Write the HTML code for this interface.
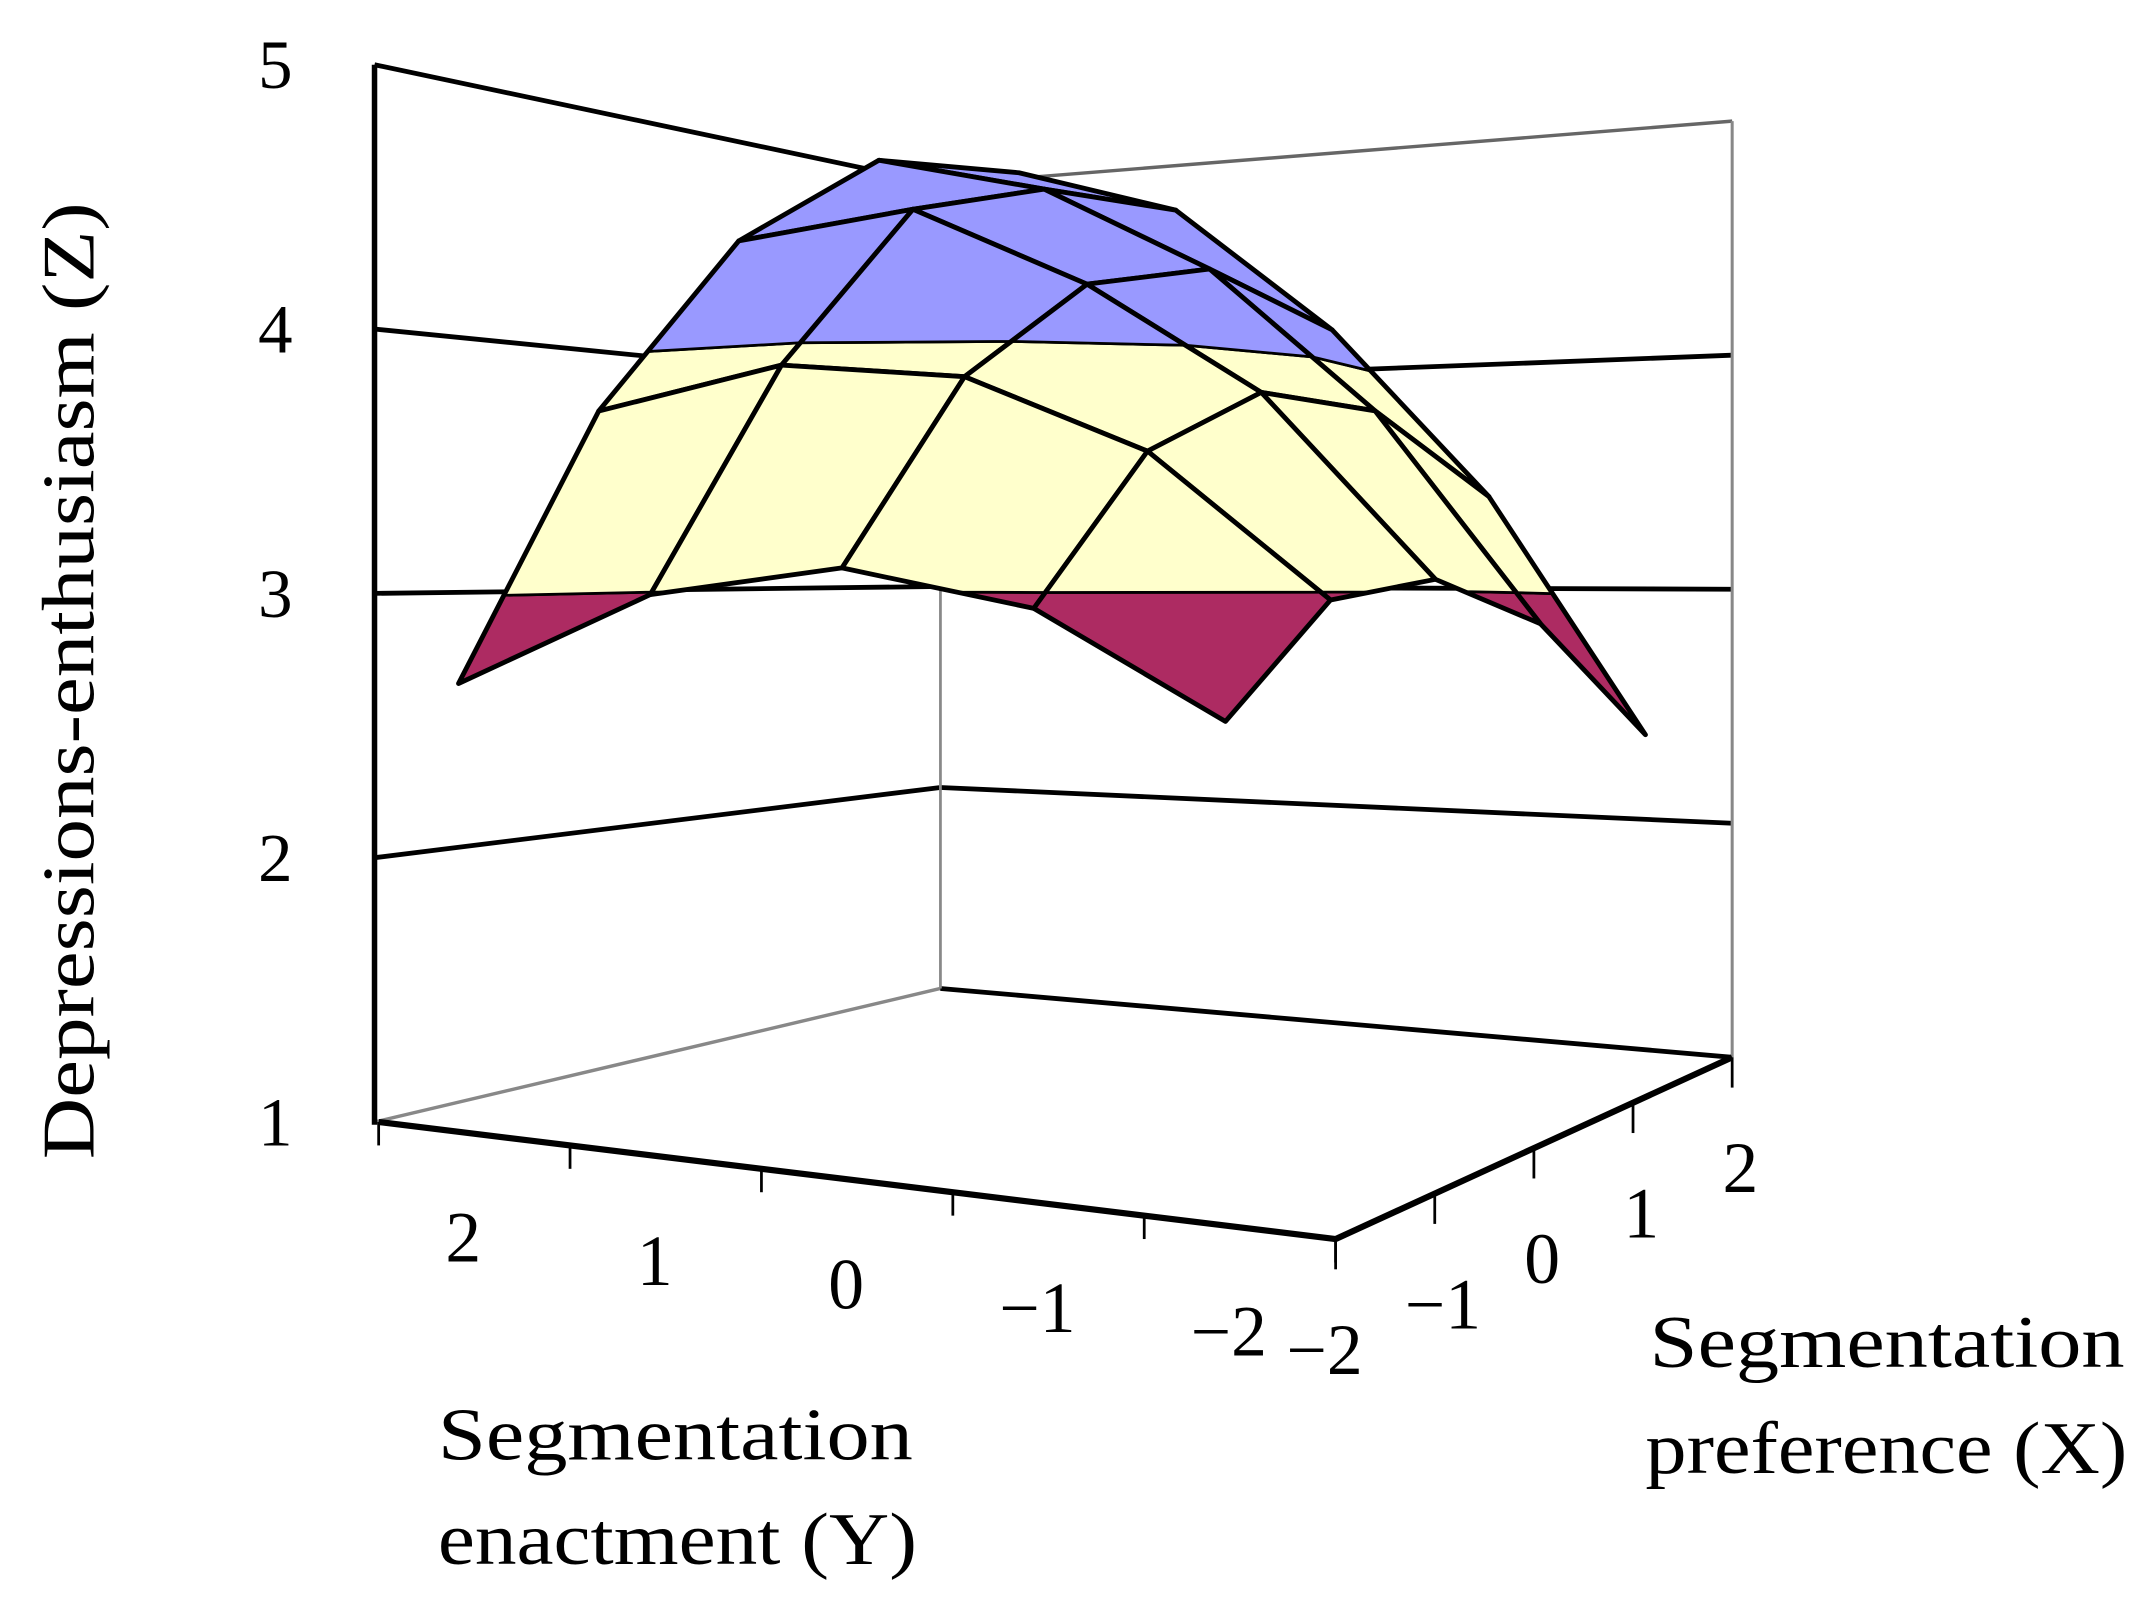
<!DOCTYPE html>
<html><head><meta charset="utf-8"><style>
html,body{margin:0;padding:0;background:#fff;}
svg{display:block;}
text{font-family:"Liberation Serif",serif;fill:#000;}
</style></head><body>
<svg id="chart" width="2148" height="1608" viewBox="0 0 1560 1168" preserveAspectRatio="none" xmlns="http://www.w3.org/2000/svg">
<g id="walls"></g>
<g id="surface"></g>
<g id="axes"></g>
<text transform="translate(68,842) rotate(-90)" font-size="54" textLength="695" lengthAdjust="spacingAndGlyphs">Depressions-enthusiasm (Z)</text>
<text x="318" y="1060" font-size="54" textLength="345" lengthAdjust="spacingAndGlyphs">Segmentation</text>
<text x="318" y="1136" font-size="54" textLength="348" lengthAdjust="spacingAndGlyphs">enactment (Y)</text>
<text x="1198" y="993" font-size="54" textLength="345" lengthAdjust="spacingAndGlyphs">Segmentation</text>
<text x="1195" y="1070" font-size="54" textLength="350" lengthAdjust="spacingAndGlyphs">preference (X)</text>
</svg>
<script>
const X_VALUES = [-2, -1, 0, 1, 2];      // rows, front to back
const Y_VALUES = [2, 1, 0, -1, -2];      // columns, left to right
const Z_ROWS = [
  [2.65, 2.99, 3.09, 2.94, 2.53],
  [3.73, 3.90, 3.84, 3.54, 2.97],
  [4.50, 4.60, 4.26, 3.80, 3.05],
  [4.96, 4.78, 4.39, 3.76, 2.87],
  [5.03, 4.79, 4.19, 3.42, 2.39]
];
const Z_TICKS = [1, 2, 3, 4, 5];
const Y_LABELS = ["2", "1", "0", "\u22121", "\u22122"];
const X_LABELS = ["\u22122", "\u22121", "0", "1", "2"];
const BAND_BREAKS = [3, 4];

const NS = "http://www.w3.org/2000/svg";
function mk(tag, attrs, parent){const e=document.createElementNS(NS,tag);for(const k in attrs)e.setAttribute(k,attrs[k]);parent.appendChild(e);return e;}

function zLeft(z){return 815-(z-1)*192;}
function zBack(z){return 718-(z-1)*146;}
function zRight(z){return 768-(z-1)*170;}

const CX=[333,890,1195,740];
const CS=[190,200,170,150];
function bil(c,u,v){return (1-u)*(1-v)*c[0]+u*(1-v)*c[1]+u*v*c[2]+(1-u)*v*c[3];}
function yIndex(yv){return Y_VALUES.indexOf(yv)/(Y_VALUES.length-1);}
function xIndex(xv){return (xv-X_VALUES[0])/(X_VALUES[X_VALUES.length-1]-X_VALUES[0]);}
function proj(yv,xv,z){const u=yIndex(yv),v=xIndex(xv);return {x:bil(CX,u,v),y:430-(z-3)*bil(CS,u,v),z:z};}

const walls=document.getElementById('walls');
Z_TICKS.forEach((z,k)=>{
  const top=(k===Z_TICKS.length-1);
  let l=mk('line',{x1:272,y1:zLeft(z),x2:683,y2:zBack(z),stroke:'#000','stroke-width':k===0?2.5:3.5},walls);
  if(k===0)l.setAttribute('stroke','#888');
  
  
  let r=mk('line',{x1:683,y1:zBack(z),x2:1258,y2:zRight(z),stroke:top?'#666':'#000','stroke-width':top?2.5:3.5},walls);
  
  
});
let bv=mk('line',{x1:683,y1:zBack(1),x2:683,y2:zBack(3),stroke:'#888','stroke-width':2},walls);


let rv=mk('line',{x1:1258,y1:zRight(1),x2:1258,y2:zRight(5),stroke:'#888','stroke-width':2.2},walls);



const surf=document.getElementById('surface');
function clip(pts,level,keepAbove){
  const out=[];
  for(let k=0;k<pts.length;k++){
    const a=pts[k],b=pts[(k+1)%pts.length];
    const ain=keepAbove?a.z>=level:a.z<=level, bin=keepAbove?b.z>=level:b.z<=level;
    if(ain)out.push(a);
    if(ain!==bin){const t=(level-a.z)/(b.z-a.z);out.push({x:a.x+t*(b.x-a.x),y:a.y+t*(b.y-a.y),z:level});}
  }
  return out;
}
const COLORS=['#ad2b62','#ffffcc','#9999ff'];
const quads=[];
for(let j=0;j<X_VALUES.length-1;j++)for(let i=0;i<Y_VALUES.length-1;i++)quads.push({i,j,d:(j+0.5)+(4-(i+0.5))});
quads.sort((a,b)=>b.d-a.d);
quads.forEach(q=>{
  const {i,j}=q;
  const pts=[[i,j],[i+1,j],[i+1,j+1],[i,j+1]].map(([a,b])=>proj(Y_VALUES[a],X_VALUES[b],Z_ROWS[b][a]));
  const g=mk('g',{},surf);
  
  
  const bands=[clip(pts,BAND_BREAKS[0],false),clip(clip(pts,BAND_BREAKS[0],true),BAND_BREAKS[1],false),clip(pts,BAND_BREAKS[1],true)];
  bands.forEach((bp,b)=>{
    if(bp.length<3)return;
    const p=mk('polygon',{points:bp.map(p=>p.x.toFixed(1)+','+p.y.toFixed(1)).join(' '),fill:COLORS[b],stroke:'#000','stroke-width':2,'stroke-linejoin':'round'},g);
    
    
  });
  const o=mk('polygon',{points:pts.map(p=>p.x.toFixed(1)+','+p.y.toFixed(1)).join(' '),fill:'none',stroke:'#000','stroke-width':3.5,'stroke-linejoin':'round'},g);
  
  
});

const axes=document.getElementById('axes');
let za=mk('line',{x1:272,y1:47,x2:272,y2:817,stroke:'#000','stroke-width':4},axes);


Z_TICKS.forEach(z=>{
  const t=mk('text',{x:200,y:zLeft(z)+17,'font-size':50,'text-anchor':'middle'},axes);
  
  
  t.textContent=String(z);
});
const F0={x:275,y:815},F1={x:970,y:900},F2={x:1258,y:768};
let fe=mk('line',{x1:F0.x,y1:F0.y,x2:F1.x,y2:F1.y,stroke:'#000','stroke-width':4.5},axes);


let re=mk('line',{x1:F1.x,y1:F1.y,x2:F2.x,y2:F2.y,stroke:'#000','stroke-width':4.5},axes);


const nY=Y_LABELS.length;
for(let k=0;k<=nY;k++){
  const t=k/nY,x=F0.x+t*(F1.x-F0.x),y=F0.y+t*(F1.y-F0.y);
  const l=mk('line',{x1:x,y1:y,x2:x,y2:y+17,stroke:'#000','stroke-width':2},axes);
  
  
}
Y_LABELS.forEach((s,k)=>{
  const t=(k+0.5)/nY,x=F0.x+t*(F1.x-F0.x),y=F0.y+t*(F1.y-F0.y);
  const e=mk('text',{x:x-8,y:y+93,'font-size':52,'text-anchor':'middle'},axes);
  
  
  e.textContent=s;
});
const nX=X_LABELS.length-1;
X_LABELS.forEach((s,k)=>{
  const t=k/nX,x=F1.x+t*(F2.x-F1.x),y=F1.y+t*(F2.y-F1.y);
  const l=mk('line',{x1:x,y1:y,x2:x,y2:y+22,stroke:'#000','stroke-width':2},axes);
  
  
  const e=mk('text',{x:x+(k===0?-8:6),y:y+98,'font-size':52,'text-anchor':'middle'},axes);
  
  
  e.textContent=s;
});
</script>
</body></html>
